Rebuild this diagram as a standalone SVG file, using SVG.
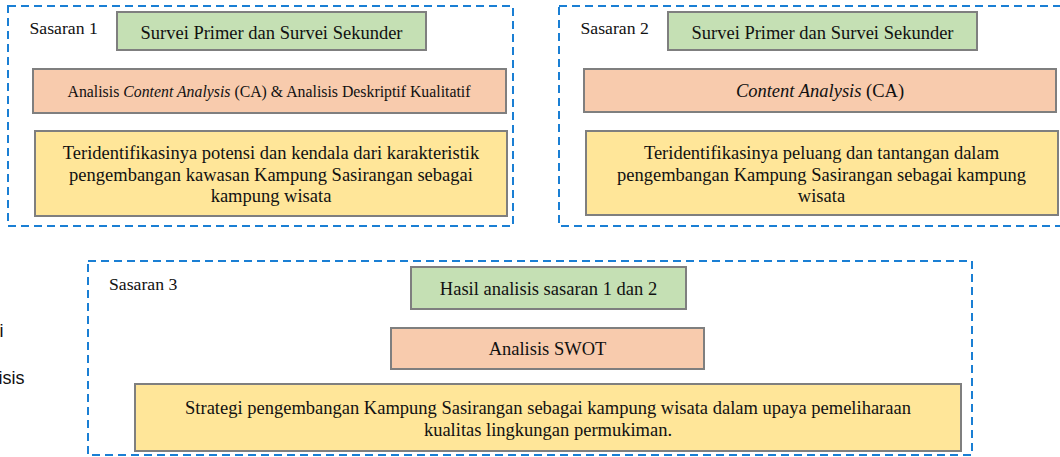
<svg xmlns="http://www.w3.org/2000/svg" width="1060" height="457" viewBox="0 0 1060 457">
<style>
.bg{fill:#ffffff}
.grp{fill:none;stroke:#1a7fd4;stroke-width:2;stroke-dasharray:8 5}
.box{stroke:#7f7f7f;stroke-width:2}
.green{fill:#c5e0b4}
.peach{fill:#f8cbad}
.yellow{fill:#ffe699}
.t{font-family:"Liberation Serif","Times New Roman",serif;font-size:18.5px;fill:#111;text-anchor:middle}
.it{font-family:"Liberation Serif","Times New Roman",serif;font-style:italic}
.small{font-size:15.8px}
.lbl{font-family:"Liberation Serif","Times New Roman",serif;font-size:17.7px;fill:#111}
.side{font-family:"Liberation Sans",Arial,sans-serif;font-size:18px;fill:#111;text-anchor:end}
</style>
<rect class="bg" x="0" y="0" width="1060" height="457"/>
<g id="side-text">
<text class="side" x="3.5" y="337">i</text>
<text class="side" x="24.5" y="384">isis</text>
</g>
<g id="sasaran1">
<rect class="grp" x="8" y="6" width="505" height="220"/>
<text class="lbl" x="29.5" y="34">Sasaran 1</text>
</g>
<g id="s1-survei">
<rect class="box green" x="117" y="12" width="309" height="38"/>
<text class="t" x="271.5" y="38.5">Survei Primer dan Survei Sekunder</text>
</g>
<g id="s1-analisis">
<rect class="box peach" x="33" y="69" width="473" height="44"/>
<text class="t small" x="269" y="96.5">Analisis <tspan class="it">Content Analysis</tspan> (CA) &amp; Analisis Deskriptif Kualitatif</text>
</g>
<g id="s1-hasil">
<rect class="box yellow" x="35" y="131" width="472" height="85"/>
<text class="t" x="271" y="159">Teridentifikasinya potensi dan kendala dari karakteristik</text>
<text class="t" x="271" y="180.5">pengembangan kawasan Kampung Sasirangan sebagai</text>
<text class="t" x="271" y="202">kampung wisata</text>
</g>
<g id="sasaran2">
<rect class="grp" x="559" y="6" width="506" height="220"/>
<text class="lbl" x="580.5" y="34">Sasaran 2</text>
</g>
<g id="s2-survei">
<rect class="box green" x="668" y="12" width="309" height="38"/>
<text class="t" x="822.5" y="38.5">Survei Primer dan Survei Sekunder</text>
</g>
<g id="s2-analisis">
<rect class="box peach" x="584" y="69" width="472" height="43"/>
<text class="t" x="820" y="96.5"><tspan class="it">Content Analysis</tspan> (CA)</text>
</g>
<g id="s2-hasil">
<rect class="box yellow" x="586" y="131" width="472" height="84"/>
<text class="t" x="821.5" y="159">Teridentifikasinya peluang dan tantangan dalam</text>
<text class="t" x="821.5" y="180.5">pengembangan Kampung Sasirangan sebagai kampung</text>
<text class="t" x="821.5" y="202">wisata</text>
</g>
<g id="sasaran3">
<rect class="grp" x="88" y="261" width="884" height="194"/>
<text class="lbl" x="109" y="290">Sasaran 3</text>
</g>
<g id="s3-hasil-analisis">
<rect class="box green" x="411" y="267" width="275" height="42"/>
<text class="t" x="548.5" y="294.5">Hasil analisis sasaran 1 dan 2</text>
</g>
<g id="s3-swot">
<rect class="box peach" x="391" y="328" width="313" height="41"/>
<text class="t" x="547.5" y="355">Analisis SWOT</text>
</g>
<g id="s3-strategi">
<rect class="box yellow" x="135" y="384" width="826" height="67"/>
<text class="t" x="548" y="414">Strategi pengembangan Kampung Sasirangan sebagai kampung wisata dalam upaya pemeliharaan</text>
<text class="t" x="548" y="435.5">kualitas lingkungan permukiman.</text>
</g>
<g id="connectors"/>
</svg>
